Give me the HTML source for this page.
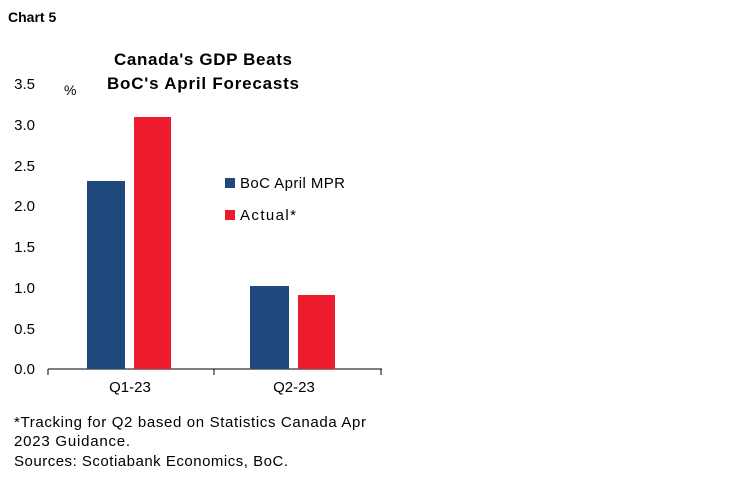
<!DOCTYPE html>
<html><head><style>
body{margin:0;width:750px;height:483px;background:#fff;font-family:"Liberation Sans",sans-serif;color:#000;position:relative;overflow:hidden}
</style></head><body>
<svg width="750" height="483" style="position:absolute;left:0;top:0">
<g font-family="Liberation Sans, sans-serif" fill="#000">
<text x="8" y="22" font-size="14" font-weight="bold">Chart 5</text>
<text x="114" y="65" font-size="17" font-weight="bold" textLength="178">Canada's GDP Beats</text>
<text x="107" y="89" font-size="17" font-weight="bold" textLength="192">BoC's April Forecasts</text>
<text x="64" y="95" font-size="14">%</text>
<g font-size="15" text-anchor="end">
<text x="35" y="89">3.5</text>
<text x="35" y="130">3.0</text>
<text x="35" y="171">2.5</text>
<text x="35" y="211">2.0</text>
<text x="35" y="252">1.5</text>
<text x="35" y="293">1.0</text>
<text x="35" y="334">0.5</text>
<text x="35" y="374">0.0</text>
</g>
<line x1="48" y1="369" x2="382" y2="369" stroke="#000" stroke-width="1"/>
<line x1="48" y1="369" x2="48" y2="375" stroke="#000"/>
<line x1="214" y1="369" x2="214" y2="375" stroke="#000"/>
<line x1="381" y1="369" x2="381" y2="375" stroke="#000"/>
<rect x="87" y="181" width="38" height="188" fill="#1f497d"/>
<rect x="134" y="117" width="37" height="252" fill="#ec1c2e"/>
<rect x="250" y="286" width="39" height="83" fill="#1f497d"/>
<rect x="298" y="295" width="37" height="74" fill="#ec1c2e"/>
<text x="130" y="392" font-size="15" text-anchor="middle">Q1-23</text>
<text x="294" y="392" font-size="15" text-anchor="middle">Q2-23</text>
<rect x="225" y="178" width="10" height="10" fill="#1f497d"/>
<text x="240" y="188" font-size="15" textLength="105">BoC April MPR</text>
<rect x="225" y="210" width="10" height="10" fill="#ec1c2e"/>
<text x="240" y="220" font-size="15" textLength="56">Actual*</text>
<g font-size="15">
<text x="14" y="427" textLength="352">*Tracking for Q2 based on Statistics Canada Apr</text>
<text x="14" y="446" textLength="116">2023 Guidance.</text>
<text x="14" y="466" textLength="274">Sources: Scotiabank Economics, BoC.</text>
</g>
</g>
</svg>
</body></html>
